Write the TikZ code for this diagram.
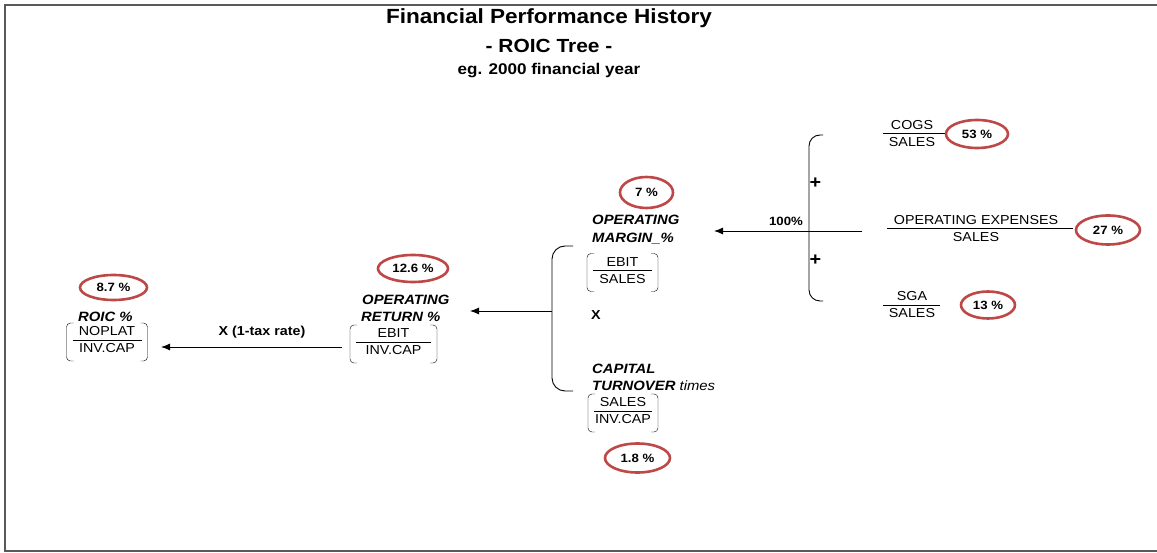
\documentclass[tikz,border=0pt]{standalone}
\usepackage{fontspec}
\setmainfont{Liberation Sans}[FakeStretch=1.1]
\usetikzlibrary{arrows.meta,shapes.geometric}
\definecolor{ringred}{RGB}{190,72,72}

% bracketed fraction: name, x, y of rule, numerator, denominator, half width
\newcommand\bracketfrac[6]{%
  \node[fracnum] (#1n) at (#2,#3-8.5) {#4};
  \node[fracnum] (#1d) at (#2,#3+8.5) {#5};
  \draw (#2-#6+6,#3) -- (#2+#6-6,#3);
  \draw[rounded corners=4] (#2-#6+7,#3-17) -- (#2-#6,#3-17) -- (#2-#6,#3+21) -- (#2-#6+7,#3+21);
  \draw[rounded corners=4] (#2+#6-7,#3-17) -- (#2+#6,#3-17) -- (#2+#6,#3+21) -- (#2+#6-7,#3+21);
}
% plain fraction: name, x of text, x from, x to, y of rule, numerator, denominator
\newcommand\plainfrac[7]{%
  \node[fracnum] (#1n) at (#2,#5-8.5) {#6};
  \node[fracnum] (#1d) at (#2,#5+8.5) {#7};
  \draw (#3,#5) -- (#4,#5);
}

\tikzset{
  fracnum/.style={inner sep=0pt,font=\fontsize{13}{15}\selectfont},
  lbl/.style={inner sep=0pt,anchor=west,font=\fontsize{13.5}{15}\selectfont\bfseries\itshape},
  boldlbl/.style={inner sep=0pt,font=\fontsize{13}{15}\selectfont\bfseries},
  plussign/.style={inner sep=0pt,font=\fontsize{18}{20}\selectfont\bfseries},
  ring/.style={draw=ringred,line width=2.6pt,ellipse,inner sep=0pt,
    font=\fontsize{12}{14}\selectfont\bfseries},
  link/.style={line width=0.9pt,-{Latex[length=9pt,width=7pt]}},
  brace/.style={line width=0.9pt,rounded corners=13pt},
}

\begin{document}
\begin{tikzpicture}[x=1pt,y=-1pt]
\useasboundingbox (0,0) rectangle (1157,553);

% frame
\draw[line width=1.6pt,gray!70!black] (1157,5) -- (5,5) -- (5,551) -- (1157,551);

% heading
\node[font=\fontsize{20.5}{24}\selectfont\bfseries] (title) at (549,18) {Financial Performance History};
\node[font=\fontsize{19}{22}\selectfont\bfseries] (sub) at (549,46) {- ROIC Tree -};
\node[font=\fontsize{15.5}{18}\selectfont\bfseries] (year) at (549,71) {eg. 2000 financial year};

% ROIC
\node[ring,minimum width=67pt,minimum height=25pt] (r87) at (113.5,287.5) {8.7 \%};
\node[lbl] (roic) at (78,317) {ROIC \%};
\bracketfrac{roicf}{107}{340}{NOPLAT}{INV.CAP}{40.5}

% operating return
\node[ring,minimum width=70pt,minimum height=27pt] (r126) at (413,268.5) {12.6 \%};
\node[lbl] (opret1) at (362,300) {OPERATING};
\node[lbl] (opret2) at (361,317) {RETURN \%};
\bracketfrac{orf}{393.5}{342}{EBIT}{INV.CAP}{43.5}

\coordinate (orright) at (342,347);
\coordinate (roicright) at (161,347);
\draw[link] (orright) -- (roicright);
\node[boldlbl] (tax) at (262,332) {X (1-tax rate)};

% brace combining margin and turnover
\coordinate (bmid) at (552,311);
\draw[brace] (573,246) -- (552,246) -- (552,391) -- (573,391);
\coordinate (ortip) at (470,311);
\draw[link] (bmid) -- (ortip);

% operating margin
\node[ring,minimum width=53pt,minimum height=31pt] (r7) at (646.5,192.5) {7 \%};
\node[lbl] (om1) at (592,220) {OPERATING};
\node[lbl] (om2) at (592,239) {MARGIN\_\%};
\bracketfrac{omf}{622.5}{270.5}{EBIT}{SALES}{35.5}
\node[boldlbl] (times) at (596,315) {X};

% capital turnover
\node[lbl] (ct1) at (592,369) {CAPITAL};
\node[lbl] (ct2) at (592,386) {TURNOVER \textmd{times}};
\bracketfrac{ctf}{623}{411}{SALES}{INV.CAP}{35}
\node[ring,minimum width=65pt,minimum height=29pt] (r18) at (637.5,458) {1.8 \%};

% cost ratios
\coordinate (costtail) at (862,231);
\coordinate (omtip) at (714,231);
\draw[link] (costtail) -- (omtip);
\node[boldlbl,font=\fontsize{12}{14}\selectfont\bfseries] (hundred) at (786,221) {100\%};
\draw[line width=0.9pt,rounded corners=11pt] (823,135) -- (809,135) -- (809,301) -- (823,301);
\node[plussign] (plus1) at (815.5,183) {+};
\node[plussign] (plus2) at (815.5,260) {+};

\plainfrac{cogs}{912}{883}{945}{133.5}{COGS}{SALES}
\node[ring,minimum width=62pt,minimum height=28pt] (r53) at (977,134) {53 \%};

\plainfrac{opex}{976}{887}{1073}{228.5}{OPERATING EXPENSES}{SALES}
\node[ring,minimum width=64pt,minimum height=29pt] (r27) at (1108,230) {27 \%};

\plainfrac{sga}{912}{883}{940}{305}{SGA}{SALES}
\node[ring,minimum width=54pt,minimum height=27pt] (r13) at (988,305) {13 \%};
\end{tikzpicture}
\end{document}
